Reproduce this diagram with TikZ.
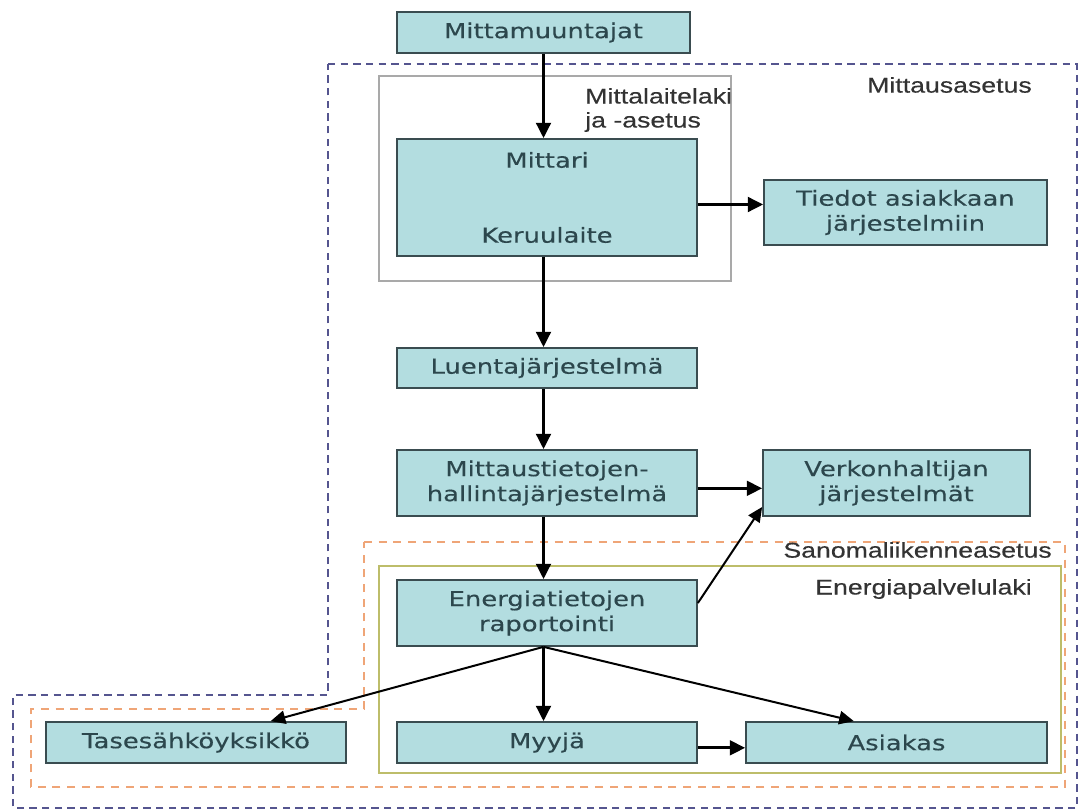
\documentclass[tikz,border=0pt]{standalone}
\usepackage{fontspec}
\setmainfont{DejaVu Sans}[FakeStretch=1.25,FakeBold=0.35]
\newfontfamily\lblfont{Liberation Sans}[FakeStretch=1.25,FakeBold=0.35]
\usetikzlibrary{arrows.meta}
\definecolor{boxfill}{HTML}{B3DDE0}
\definecolor{boxline}{HTML}{3A4C50}
\definecolor{boxtext}{HTML}{2C474D}
\definecolor{bluedash}{HTML}{55558F}
\definecolor{orangedash}{HTML}{EFA577}
\definecolor{greenline}{HTML}{BDBD6A}
\definecolor{grayline}{HTML}{A9A9A9}
\definecolor{lbltext}{HTML}{333333}
\begin{document}
\begin{tikzpicture}[x=0.75pt,y=-0.75pt,
  box/.style={draw=boxline, fill=boxfill, line width=1.3pt, text=boxtext,
    font=\fontsize{15.5}{18.75}\selectfont, align=center, inner sep=0pt},
  arr/.style={-{Triangle[length=11.5pt,width=11pt]}, line width=2.2pt, black},
  thinarr/.style={-{Triangle[length=11pt,width=10pt]}, line width=1.5pt, black},
  lbl/.style={text=lbltext, font=\lblfont\fontsize{16}{18}\selectfont, inner sep=0pt},
  bluecont/.style={draw=bluedash, line width=1.8pt, dash pattern=on 5.5pt off 4pt},
  orangecont/.style={draw=orangedash, line width=1.1pt, dash pattern=on 6pt off 5pt},
  greencont/.style={draw=greenline, line width=1.1pt},
  graycont/.style={draw=grayline, line width=1.1pt}]
\useasboundingbox (0,0) rectangle (1079,812);
\fill[white] (0,0) rectangle (1079,812);

% containers
\draw[bluecont] (328,64) -- (1077,64) -- (1077,808) -- (13,808) -- (13,695) -- (328,695) -- cycle;
\draw[graycont] (379,76) rectangle (731,281);
\draw[orangecont] (364,542) -- (1065,542) -- (1065,787) -- (31,787) -- (31,709) -- (364,709) -- cycle;
\draw[greencont] (379,566) rectangle (1061,773);

% container labels
\node[lbl, anchor=east] (lmitt) at (1032,85) {Mittausasetus};
\node[lbl, anchor=west, align=left] (llait) at (585,110) {Mittalaitelaki\\ja -asetus};
\node[lbl, anchor=east] (lsano) at (1052,550) {Sanomaliikenneasetus};
\node[lbl, anchor=east] (lener) at (1032,589) {Energiapalvelulaki};

% boxes
\node[box, minimum width=219.75pt, minimum height=30.75pt] (mm) at (543.5,32.5) {Mittamuuntajat};
\node[box, minimum width=225pt, minimum height=87.75pt] (mittari) at (547,197.5) {Mittari\\[37.5pt]Keruulaite};
\node[box, minimum width=212.25pt, minimum height=48.75pt] (tiedot) at (905.5,212.5) {Tiedot asiakkaan\\järjestelmiin};
\node[box, minimum width=225pt, minimum height=30pt] (luenta) at (547,368) {Luentajärjestelmä};
\node[box, minimum width=225pt, minimum height=49.5pt] (mhj) at (547,483) {Mittaustietojen-\\hallintajärjestelmä};
\node[box, minimum width=200.25pt, minimum height=49.5pt] (verkon) at (896.5,483) {Verkonhaltijan\\järjestelmät};
\node[box, minimum width=225pt, minimum height=49.5pt] (energia) at (547,613) {Energiatietojen\\raportointi};
\node[box, minimum width=225pt, minimum height=30.75pt] (tase) at (196,742.5) {Tasesähköyksikkö};
\node[box, minimum width=225pt, minimum height=30.75pt] (myyja) at (547,742.5) {Myyjä};
\node[box, minimum width=225.75pt, minimum height=30.75pt] (asiakas) at (896.5,742.5) {Asiakas};

% connectors
\draw[arr] (mm.south) -- (mittari.north -| mm.south);
\draw[arr] ([yshift=6pt]tiedot.west -| mittari.east) -- ([yshift=6pt]tiedot.west);
\draw[arr] (mittari.south -| mm.south) -- (luenta.north -| mm.south);
\draw[arr] (luenta.south -| mm.south) -- (mhj.north -| mm.south);
\draw[arr] ([yshift=-4pt]mhj.east) -- ([yshift=-4pt]verkon.west);
\draw[arr] (mhj.south -| mm.south) -- (energia.north -| mm.south);
\draw[thinarr] ([yshift=7.5pt]energia.east) -- ([yshift=-18pt]verkon.west);
\draw[thinarr] (energia.south -| mm.south) -- ([xshift=56pt]tase.north);
\draw[arr] (energia.south -| mm.south) -- (myyja.north -| mm.south);
\draw[thinarr] (energia.south -| mm.south) -- ([xshift=-32pt]asiakas.north);
\draw[arr] ([yshift=-4pt]myyja.east) -- ([yshift=-4pt]asiakas.west);
\end{tikzpicture}
\end{document}
